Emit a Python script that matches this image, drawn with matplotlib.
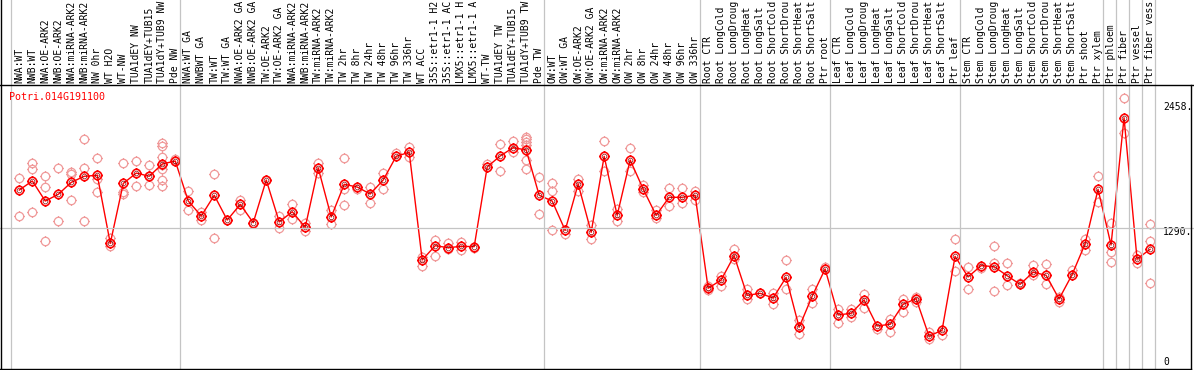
import matplotlib
matplotlib.use("Agg")
import matplotlib.pyplot as plt
import matplotlib.transforms as mtransforms
from matplotlib.lines import Line2D
from matplotlib.path import Path
import numpy as np

# ---------------- data ----------------
gene_name = "Potri.014G191100"

sample_labels = [
    "NWA:WT", "NWB:WT", "NWA:OE-ARK2", "NWB:OE-ARK2", "NWA:miRNA-ARK2", "NWB:miRNA-ARK2",
    "NW 0hr", "WT H2O", "WT-NW", "TUA1dEY NW", "TUA1dEY+TUB15", "TUA1dY+TUB9 NW", "Pde NW",
    "NWA:WT GA", "NWBWT GA", "TW:WT", "TW:WT GA", "NWA:OE-ARK2 GA", "NWB:OE-ARK2 GA",
    "TW:OE-ARK2", "TW:OE-ARK2 GA", "NWA:miRNA-ARK2", "NWB:miRNA-ARK2", "TW:miRNA-ARK2",
    "TW:miRNA-ARK2", "TW 2hr", "TW 8hr", "TW 24hr", "TW 48hr", "TW 96hr", "TW 336hr",
    "WT ACC", "35S::etr1-1 H2", "35S::etr1-1 AC", "LMX5::etr1-1 H", "LMX5::etr1-1 A",
    "WT-TW", "TUA1dEY TW", "TUA1dEY+TUB15", "TUA1dY+TUB9 TW", "Pde TW",
    "OW:WT", "OW:WT GA", "OW:OE-ARK2", "OW:OE-ARK2 GA", "OW:miRNA-ARK2", "OW:miRNA-ARK2",
    "OW 2hr", "OW 8hr", "OW 24hr", "OW 48hr", "OW 96hr", "OW 336hr",
    "Root CTR", "Root LongCold", "Root LongDroug", "Root LongHeat", "Root LongSalt",
    "Root ShortCold", "Root ShortDrou", "Root ShortHeat", "Root ShortSalt", "Ptr root",
    "Leaf CTR", "Leaf LongCold", "Leaf LongDroug", "Leaf LongHeat", "Leaf LongSalt",
    "Leaf ShortCold", "Leaf ShortDrou", "Leaf ShortHeat", "Leaf ShortSalt", "Ptr leaf",
    "Stem CTR", "Stem LongCold", "Stem LongDroug", "Stem LongHeat", "Stem LongSalt",
    "Stem ShortCold", "Stem ShortDrou", "Stem ShortHeat", "Stem ShortSalt",
    "Ptr shoot", "Ptr xylem", "Ptr phloem", "Ptr fiber", "Ptr vessel", "Ptr fiber vess",
]

mean_values = [
    1642, 1727, 1539, 1602, 1714, 1771, 1780, 1143, 1704, 1801, 1771, 1886, 1914,
    1539, 1399, 1593, 1361, 1508, 1336, 1736, 1343, 1439, 1293, 1848, 1390, 1696,
    1670, 1605, 1736, 1958, 1995, 987, 1121, 1102, 1115, 1112, 1858, 1961, 2039,
    2017, 1593,
    1539, 1265, 1699, 1246, 1958, 1405, 1923, 1652, 1405, 1574, 1574, 1593,
    722, 800, 1027, 656, 675, 631, 825, 357, 647, 903,
    472, 488, 612, 369, 385, 572, 625, 272, 331, 1021,
    828, 934, 925, 840, 759, 872, 844, 622, 849, 1137, 1649,
    1127, 2319, 996, 1087,
]

replicate_values = [
    [1758, 1399], [1898, 1836, 1433], [1770, 1667, 1165], [1845, 1352],
    [1814, 1789, 1549], [2117, 1845, 1352], [1939, 1742, 1620], [1190, 1121],
    [1892, 1620, 1602], [1914, 1677], [1873, 1770, 1686],
    [2079, 2057, 1954, 1876, 1839, 1736, 1683], [1933, 1914],
    [1633, 1455], [1433, 1361], [1789, 1193], [1361], [1549, 1455], [1336],
    [1736], [1399, 1283], [1508, 1368], [1330, 1258], [1898, 1798], [1455, 1321],
    [1939, 1652, 1499], [1649], [1673, 1524], [1798, 1652], [1986], [2042, 1954],
    [1012, 931], [1174, 1024], [1149, 1087], [1158, 1084], [1096], [1886],
    [2070, 1820], [2101, 2001], [2142, 2117, 2089, 2064, 1923, 1836], [1767, 1421],
    [1705, 1636, 1265], [1227], [1742, 1636], [1315, 1184], [2101, 1820],
    [1464, 1352], [2032, 1820], [1689, 1627], [1455, 1377], [1658, 1493],
    [1658, 1518], [1633, 1549],
    [706, 743], [837, 747], [1090, 993], [712, 625], [675], [675, 572], [987, 712],
    [425, 291], [712, 587], [924],
    [528, 400], [525, 456], [665, 534], [338], [431, 310], [622, 503], [644, 597],
    [316, 244], [285], [1180, 884],
    [924, 715], [909], [1118, 962, 697], [956, 750], [768], [940, 846], [946, 759],
    [644, 597], [893], [1180, 1081], [1777, 1527],
    [1330, 1065, 971], [2501, 2173], [1034, 956], [1321, 1162, 768],
]

# group separators: after these (1-based) sample numbers
group_ends = [0, 13, 41, 53, 63, 73, 84, 85, 86, 87, 88]
axis_marks = [2458, 1290, 0]
ref_line = 1290

# ---------------- layout (pixels) ----------------
W, H = 1194, 370
AX_L, AX_R, AX_T, AX_B = 0.5, 1191, 84.5, 369
X0, DX = 19.3, 12.997
Y0, SY = 365.4, 0.1068

fig = plt.figure(figsize=(W / 100, H / 100), dpi=100)
ax = fig.add_axes([AX_L / W, 1 - AX_B / H, (AX_R - AX_L) / W, (AX_B - AX_T) / H])
ax.set_xlim((AX_L - X0) / DX, (AX_R - X0) / DX)
ax.set_ylim((Y0 - AX_B) / SY, (Y0 - AX_T) / SY)
ax.axis("off")

mono = "DejaVu Sans Mono"
gray = "#c4c4c4"
pink = "#f09a9a"
FS = 7.05

# vertical group lines across full figure height
tr_xv = mtransforms.blended_transform_factory(ax.transData, fig.transFigure)
for g in group_ends:
    xg = g - 0.5 - 0.12
    fig.add_artist(Line2D([xg, xg], [0, 1], transform=tr_xv, color=gray, lw=0.9, zorder=1))

# horizontal reference line across full width
tr_hy = mtransforms.blended_transform_factory(fig.transFigure, ax.transData)
fig.add_artist(Line2D([0, 1], [ref_line, ref_line], transform=tr_hy, color=gray, lw=0.9, zorder=1))

# black frame lines
def fl(x0, y0, x1, y1):
    fig.add_artist(Line2D([x0 / W, x1 / W], [1 - y0 / H, 1 - y1 / H],
                          transform=fig.transFigure, color="black", lw=1.0, zorder=5))

fl(0.7, 0, 0.7, H)
fl(0, AX_T, W, AX_T)
fl(0, AX_B, AX_R, AX_B)
fl(AX_R, AX_T, AX_R, AX_B)

# custom marker: circle with small ticks
theta = np.linspace(0, 2 * np.pi, 41)
verts = [(np.cos(t), np.sin(t)) for t in theta]
codes = [Path.MOVETO] + [Path.LINETO] * (len(verts) - 1)
for dx_, dy_ in [(1, 0), (-1, 0), (0, 1), (0, -1)]:
    verts += [(dx_ * 1.0, dy_ * 1.0), (dx_ * 1.3, dy_ * 1.3)]
    codes += [Path.MOVETO, Path.LINETO]
tick_circle = Path(verts, codes)

x_idx = np.arange(len(mean_values))

# replicates
for i, reps in enumerate(replicate_values):
    ax.plot([i] * len(reps), reps, linestyle="none", marker=tick_circle, ms=7.8,
            mfc="none", mec=pink, mew=0.9, zorder=3, clip_on=False)

# mean line + markers
ax.plot(x_idx, mean_values, color="red", lw=1.0, zorder=4)
ax.plot(x_idx, mean_values, linestyle="none", marker=tick_circle, ms=7.8,
        mfc="none", mec="red", mew=1.15, zorder=6)
ax.plot(x_idx, mean_values, linestyle="none", marker="o", ms=3.4,
        mfc="none", mec="#7a0000", mew=0.45, zorder=6)

# sample labels above plot
tr_lab = mtransforms.offset_copy(
    mtransforms.blended_transform_factory(ax.transData, ax.transAxes), fig, x=0, y=1.5, units="dots")
for i, lab in enumerate(sample_labels):
    ax.text(i, 1.0, lab, transform=tr_lab, rotation=90, ha="center", va="bottom",
            fontsize=FS, family=mono, color="black", clip_on=False)

# gene name
fig.text(9 / W, 1 - 97 / H, gene_name, ha="left", va="center", fontsize=7.2,
         family=mono, color="red")

# right-hand value marks
for v in axis_marks:
    off = -4 if v > 0 else 3.5
    tr_m = mtransforms.offset_copy(
        mtransforms.blended_transform_factory(fig.transFigure, ax.transData), fig, x=0, y=off, units="dots")
    lab = f"{v}." if v > 0 else "0"
    ax.text(1163 / W, v, lab, transform=tr_m, ha="left", va="center",
            fontsize=7.0, family=mono, color="black", clip_on=False)

fig.savefig("out.png", dpi=100)
